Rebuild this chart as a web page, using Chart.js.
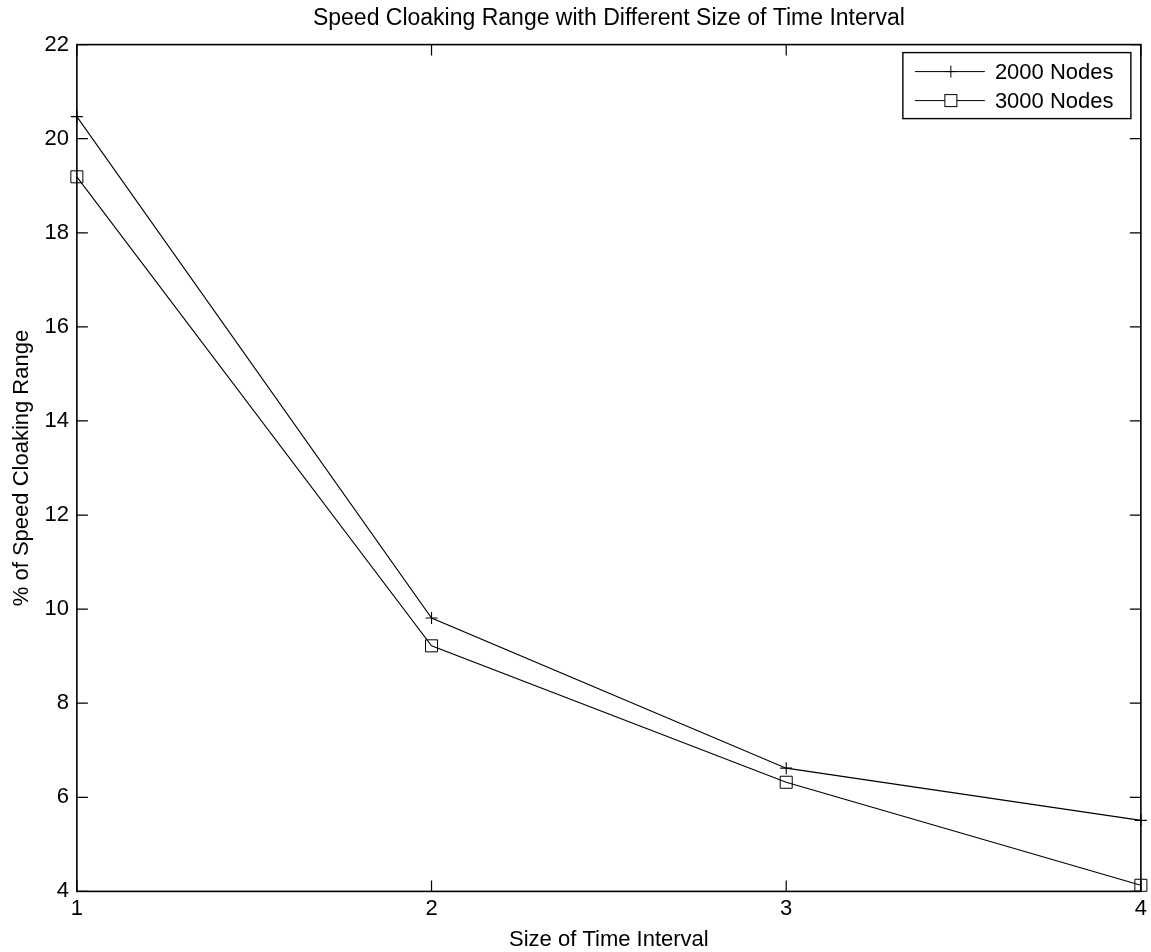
<!DOCTYPE html>
<html>
<head>
<meta charset="utf-8">
<script src="https://cdn.jsdelivr.net/npm/chart.js@4.4.1/dist/chart.umd.min.js"></script>
<style>
  html, body { margin: 0; padding: 0; background: #fff; }
  #wrap { width: 1151px; height: 952px; }
</style>
</head>
<body>
<div id="wrap"><canvas id="chart" width="1151" height="952"></canvas></div>
<script>
// data
const intervals = [1, 2, 3, 4];
const nodes2000 = [20.47, 9.81, 6.62, 5.51];
const nodes3000 = [19.19, 9.22, 6.32, 4.13];
const yTicks = [4, 6, 8, 10, 12, 14, 16, 18, 20, 22];

const FONT = '"Liberation Sans", Arial, sans-serif';
const FS = 22;

// box + inward ticks, matlab style
const boxTicks = {
    id: 'boxTicks',
    afterDraw(chart) {
        const { ctx, chartArea: a, scales: { x, y } } = chart;
        ctx.save();
        ctx.strokeStyle = '#000';
        ctx.lineWidth = 1.6;
        ctx.strokeRect(a.left, a.top, a.right - a.left, a.bottom - a.top);
        ctx.lineWidth = 1.2;
        const len = 11;
        intervals.forEach(v => {
            const px = x.getPixelForValue(v);
            ctx.beginPath();
            ctx.moveTo(px, a.bottom); ctx.lineTo(px, a.bottom - len);
            ctx.moveTo(px, a.top); ctx.lineTo(px, a.top + len);
            ctx.stroke();
        });
        yTicks.forEach(v => {
            const py = y.getPixelForValue(v);
            ctx.beginPath();
            ctx.moveTo(a.left, py); ctx.lineTo(a.left + len, py);
            ctx.moveTo(a.right, py); ctx.lineTo(a.right - len, py);
            ctx.stroke();
        });
        ctx.restore();
    }
};

// legend box in the top right corner
const boxLegend = {
    id: 'boxLegend',
    afterDraw(chart) {
        const { ctx, chartArea: a } = chart;
        const w = 228, h = 66;
        const x0 = a.right - w - 10, y0 = a.top + 8;
        ctx.save();
        ctx.fillStyle = '#fff';
        ctx.fillRect(x0, y0, w, h);
        ctx.strokeStyle = '#000';
        ctx.lineWidth = 1.4;
        ctx.strokeRect(x0, y0, w, h);
        ctx.font = FS + 'px ' + FONT;
        ctx.textBaseline = 'middle';
        ctx.fillStyle = '#000';
        chart.data.datasets.forEach((ds, i) => {
            const cy = y0 + 19 + i * 29;
            ctx.lineWidth = 1;
            ctx.beginPath();
            ctx.moveTo(x0 + 12, cy); ctx.lineTo(x0 + 82, cy);
            ctx.stroke();
            const mx = x0 + 48;
            ctx.beginPath();
            if (ds.pointStyle === 'cross') {
                ctx.moveTo(mx - 5, cy); ctx.lineTo(mx + 5, cy);
                ctx.moveTo(mx, cy - 6); ctx.lineTo(mx, cy + 6);
                ctx.stroke();
            } else {
                ctx.fillStyle = '#fff';
                ctx.fillRect(mx - 6, cy - 6, 12, 12);
                ctx.strokeRect(mx - 6, cy - 6, 12, 12);
                ctx.fillStyle = '#000';
            }
            ctx.fillText(ds.label, x0 + 92, cy + 1);
        });
        ctx.restore();
    }
};

new Chart(document.getElementById('chart'), {
    type: 'line',
    data: {
        datasets: [{
            label: '2000 Nodes',
            data: intervals.map((v, i) => ({ x: v, y: nodes2000[i] })),
            borderColor: '#000',
            borderWidth: 1.1,
            pointStyle: 'cross',
            pointRadius: 6,
            pointBorderColor: '#000',
            pointBorderWidth: 1.1,
            tension: 0,
            clip: false
        }, {
            label: '3000 Nodes',
            data: intervals.map((v, i) => ({ x: v, y: nodes3000[i] })),
            borderColor: '#000',
            borderWidth: 1.1,
            pointStyle: 'rect',
            pointRadius: 8.5,
            pointBackgroundColor: 'rgba(255,255,255,0)',
            pointBorderColor: '#000',
            pointBorderWidth: 1,
            tension: 0,
            clip: false
        }]
    },
    options: {
        responsive: false,
        animation: false,
        layout: { padding: { left: 9, right: 5, top: 0, bottom: 0 } },
        plugins: {
            legend: { display: false },
            tooltip: { enabled: false },
            title: {
                display: true,
                fullSize: false,
                text: 'Speed Cloaking Range with Different Size of Time Interval',
                color: '#000',
                font: { family: FONT, size: 23, weight: 'normal' },
                padding: { top: 5, bottom: 12 }
            }
        },
        scales: {
            x: {
                type: 'linear',
                min: 1, max: 4,
                grid: { display: false, drawTicks: false },
                border: { display: false },
                ticks: {
                    stepSize: 1,
                    color: '#000',
                    font: { family: FONT, size: FS },
                    padding: 4
                },
                title: {
                    display: true,
                    text: 'Size of Time Interval',
                    color: '#000',
                    font: { family: FONT, size: FS, lineHeight: 1.1 },
                    padding: { top: 2, bottom: 0 }
                }
            },
            y: {
                min: 4, max: 22,
                grid: { display: false, drawTicks: false },
                border: { display: false },
                afterBuildTicks: s => { s.ticks = yTicks.map(v => ({ value: v })); },
                ticks: {
                    color: '#000',
                    font: { family: FONT, size: FS },
                    padding: 8
                },
                title: {
                    display: true,
                    text: '% of Speed Cloaking Range',
                    color: '#000',
                    font: { family: FONT, size: FS },
                    padding: { top: 0, bottom: 1 }
                }
            }
        }
    },
    plugins: [boxTicks, boxLegend]
});
</script>
</body>
</html>
